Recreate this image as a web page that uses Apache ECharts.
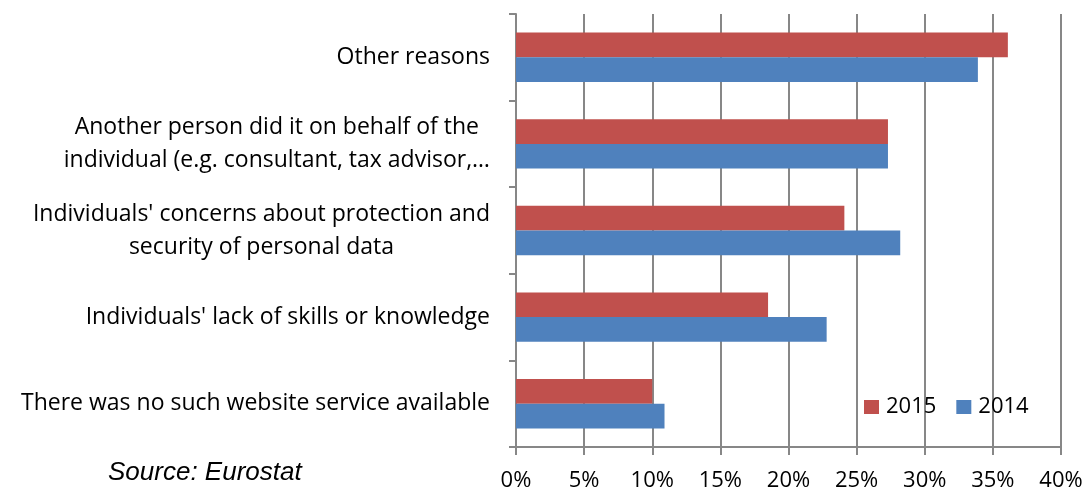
<!DOCTYPE html>
<html><head><meta charset="utf-8">
<script src="https://cdn.jsdelivr.net/npm/echarts@6/dist/echarts.min.js"></script>
<style>html,body{margin:0;padding:0;background:#fff}#c{width:1085px;height:491px}</style>
</head><body><div id="c"></div>
<script>
var categories = [
  "There was no such website service available",
  "Individuals' lack of skills or knowledge",
  "Individuals' concerns about protection and\nsecurity of personal data",
  "Another person did it on behalf of the\nindividual (e.g. consultant, tax advisor,\u2026",
  "Other reasons"
];
var values2015 = [10.0, 18.5, 24.1, 27.3, 36.1];
var values2014 = [10.9, 22.8, 28.2, 27.3, 33.9];
var xTicks = [0, 5, 10, 15, 20, 25, 30, 35, 40];

var FONT = 'Open Sans';
var chart = echarts.init(document.getElementById('c'));
chart.setOption({
  animation: false,
  title: {
    text: 'Source: Eurostat', left: 103, top: 455,
    textStyle: {fontFamily: 'Liberation Sans', fontStyle: 'italic', fontWeight: 'normal', fontSize: 26, color: '#000'}
  },
  legend: {
    data: ['2015', '2014'], left: 859, top: 391, itemWidth: 15, itemHeight: 14, itemGap: 20,
    icon: 'rect',
    textStyle: {fontFamily: FONT, fontSize: 22, color: '#000', padding: [0, 0, 0, 2]}
  },
  grid: {left: 516, right: 24, top: 14, bottom: 44, containLabel: false, outerBoundsMode: 'none'},
  xAxis: {
    type: 'value', min: 0, max: 40, interval: 5,
    axisLine: {show: true, lineStyle: {color: '#878787', width: 2}},
    axisTick: {show: true, length: 8, lineStyle: {color: '#878787', width: 2}},
    splitLine: {show: true, lineStyle: {color: '#878787', width: 2}},
    axisLabel: {formatter: function (v) { return xTicks.indexOf(v) >= 0 ? v + '%' : ''; }, margin: 23,
      fontFamily: FONT, fontSize: 22, color: '#000'}
  },
  yAxis: {
    type: 'category', data: categories,
    axisLine: {show: true, lineStyle: {color: '#878787', width: 2}},
    axisTick: {show: true, length: 7, lineStyle: {color: '#878787', width: 2}},
    axisLabel: {
      margin: 26, align: 'right', fontFamily: FONT, fontSize: 23, color: '#000', lineHeight: 33,
      formatter: function (v) { return v.split('\n').map(function (s) { return '{a|' + s + '}'; }).join('\n'); },
      rich: {a: {align: 'center', fontFamily: FONT, fontSize: 23, color: '#000', lineHeight: 33}}
    }
  },
  series: [
    {name: '2015', type: 'bar', data: values2015, itemStyle: {color: '#C0504D'}, barGap: '0%', barCategoryGap: '43%'},
    {name: '2014', type: 'bar', data: values2014, itemStyle: {color: '#4F81BD'}, barGap: '0%', barCategoryGap: '43%'}
  ]
});
</script></body></html>
